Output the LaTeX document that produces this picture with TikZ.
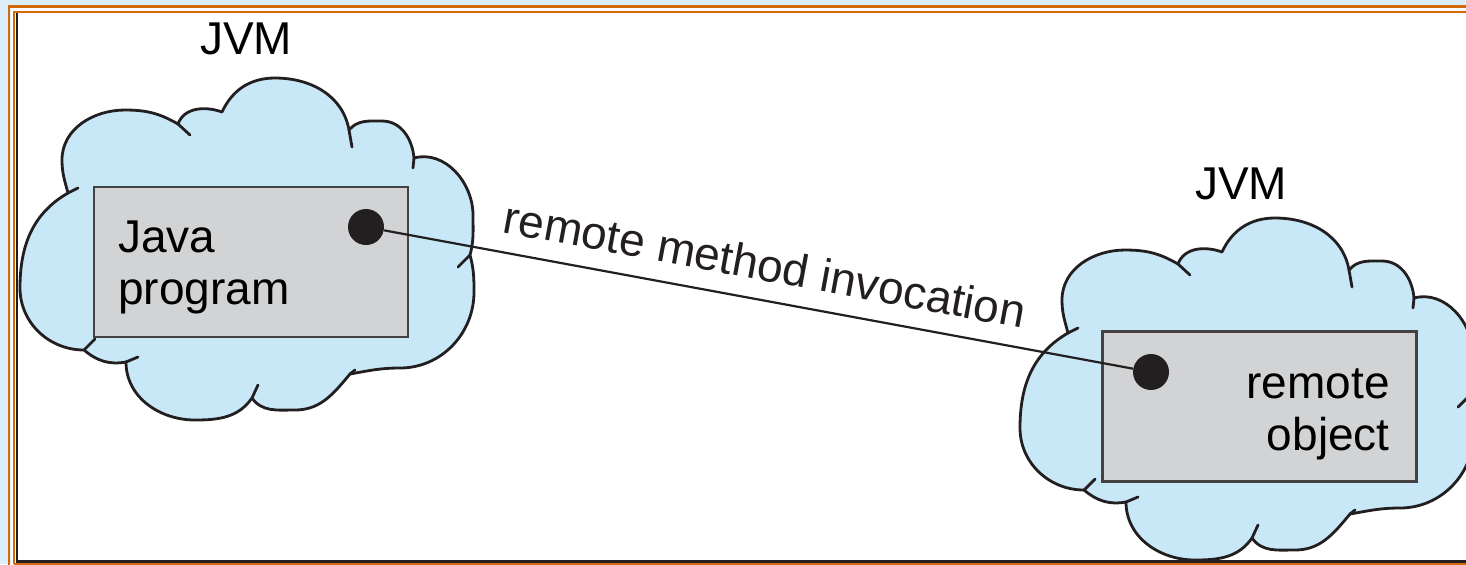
\documentclass[tikz,border=0pt]{standalone}
\usepackage{fontspec}
\setmainfont{Liberation Sans}
\usepackage{tikz}
\definecolor{cloudblue}{HTML}{C8E8F8}
\definecolor{boxgray}{HTML}{D2D3D5}
\definecolor{ink}{HTML}{231F20}
\definecolor{slideorange}{HTML}{D2690A}
\definecolor{slidebg}{HTML}{DCEEFA}
\tikzset{
  font={\fontsize{23pt}{26pt}\selectfont},
  cloud/.style={draw=ink, fill=cloudblue, line width=1.4pt, line join=round},
  cloudtail/.style={draw=ink, line width=1.4pt, line cap=round},
  jvmbox/.style={draw=ink!85, fill=boxgray, line width=1.2pt,
    minimum width=157pt, minimum height=75pt},
  refdot/.style={circle, fill=ink, minimum size=18pt},
  rmi/.style={ink, line width=1.1pt}}

% one cloud, drawn round the origin of the image
\newcommand{\jvmcloud}{%
\filldraw[cloud] (68,-193) to[out=105,in=-90] (62,-160)
  to[out=90,in=180] (125,-110) to[out=0,in=150] (178,-124)
  to[out=70,in=160] (222,-112)
  to[out=65,in=180] (275,-78) to[out=0,in=100] (349,-130)
  to[out=50,in=180] (382,-121) to[out=0,in=95] (414,-158)
  to[out=15,in=90] (473,-215) to[out=-90,in=75] (470,-255)
  to[out=-75,in=90] (474,-292) to[out=-90,in=0] (400,-368)
  to[out=180,in=10] (350,-374)
  to[out=-130,in=0] (295,-410) to[out=180,in=-55] (252,-398)
  to[out=-125,in=0] (195,-420) to[out=180,in=-90] (126,-362)
  to[out=190,in=-40] (84,-350)
  to[out=180,in=-90] (20,-288) to[out=90,in=210] cycle;
\draw[cloudtail] (68,-193) -- (78,-188);
\draw[cloudtail] (178,-124) -- (190,-135);
\draw[cloudtail] (349,-130) -- (352,-147);
\draw[cloudtail] (414,-158) -- (413,-168);
\draw[cloudtail] (470,-255) -- (458,-267);
\draw[cloudtail] (350,-374) -- (355,-370);
\draw[cloudtail] (252,-398) -- (258,-385);
\draw[cloudtail] (126,-362) -- (138,-357);
\draw[cloudtail] (84,-350) -- (95,-339);}

\begin{document}
\begin{tikzpicture}[x=0.5pt,y=0.5pt]
\tikzstyle{every node}+=[inner sep=0pt]
\useasboundingbox (0,0) rectangle (1466,-564);
% slide frame
\fill[slidebg] (0,0) rectangle (1466,-564);
\draw[slideorange, line width=1.25pt] (9,-580) |- (1480,-6.5);
\fill[white] (10.5,-8) rectangle (1480,-580);
\draw[slideorange, line width=1.25pt] (14,-564) |- (1480,-12) (14,-564) -- (1480,-564);
\fill[white] (15.5,-13.3) rectangle (1480,-562);
\draw[ink, line width=1.25pt] (17,-13) -- (17,-561.5) -- (1480,-561.5);
% clouds
\jvmcloud
\begin{scope}[shift={(1000,-140)}]
\jvmcloud
\end{scope}
% left JVM
\node (jvmL) at (246,-38.5) {JVM};
\node[jvmbox] (progbox) at (251,-262) {};
\node[anchor=north west, align=left] (progtext) at (118,-220) {Java\\program};
\node[refdot] (progdot) at (366,-227) {};
% right JVM
\node (jvmR) at (1241,-184) {JVM};
\node[jvmbox] (objbox) at (1259.5,-406.5) {};
\node[anchor=north east, align=right] (objtext) at (1390,-368) {remote\\object};
\node[refdot] (objdot) at (1151,-372) {};
% invocation
\draw[rmi] (progdot) -- node[sloped, above=9pt] {remote method invocation} (objdot);
\end{tikzpicture}
\end{document}
